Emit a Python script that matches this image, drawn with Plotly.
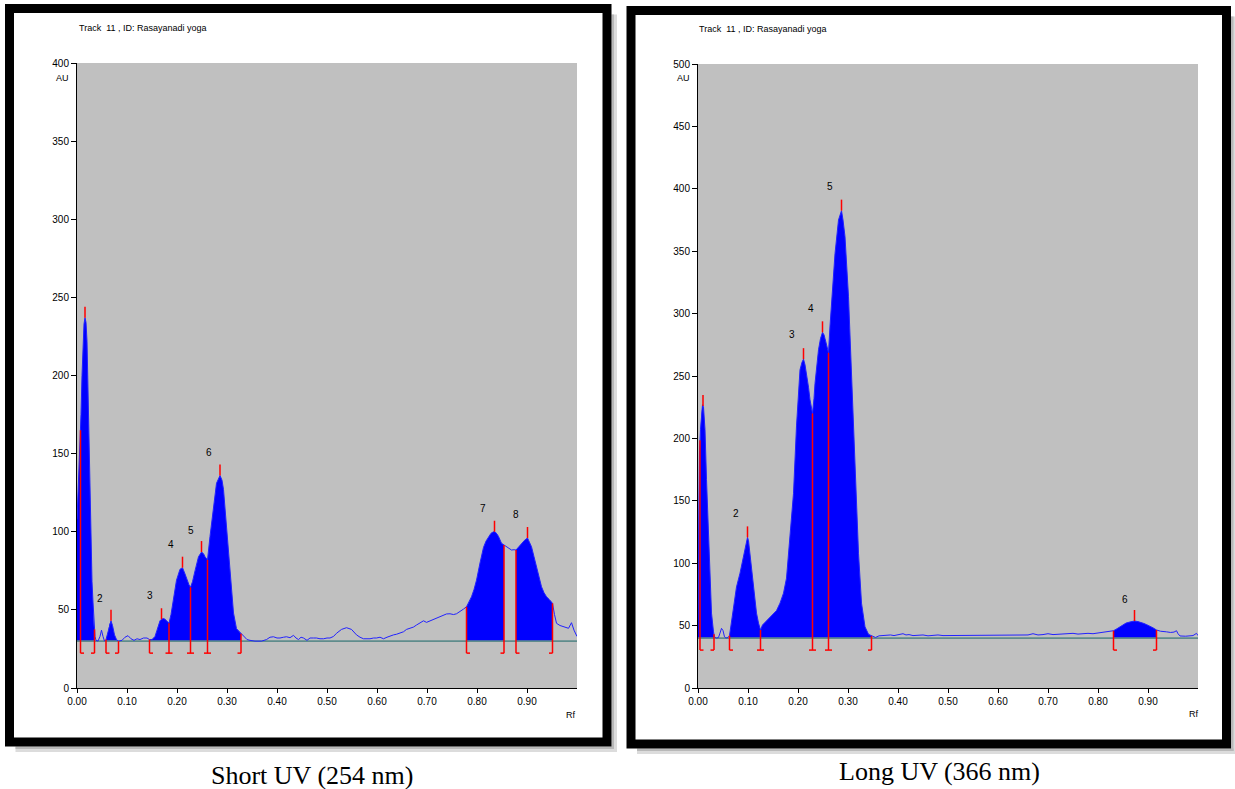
import numpy as np
import plotly.graph_objects as go

W, H = 1235, 789

# ---------------- DATA : Short UV (254 nm) ----------------
short_rf = [0.000, 0.003, 0.006, 0.008, 0.010, 0.012, 0.014, 0.016, 0.018, 0.020, 0.022, 0.024, 0.026, 0.028,
            0.030, 0.032, 0.034, 0.036, 0.038, 0.042, 0.046, 0.049, 0.052, 0.055, 0.058, 0.062, 0.065, 0.068,
            0.071, 0.075, 0.079, 0.083, 0.090, 0.096, 0.102, 0.108, 0.114, 0.120, 0.126, 0.133, 0.140, 0.145,
            0.150, 0.156, 0.160, 0.163, 0.166, 0.169, 0.173, 0.176, 0.180, 0.184, 0.188, 0.193, 0.199, 0.206,
            0.211, 0.216, 0.220, 0.224, 0.227, 0.231, 0.236, 0.243, 0.249, 0.253, 0.256, 0.261, 0.266, 0.273,
            0.279, 0.286, 0.290, 0.293, 0.299, 0.306, 0.313, 0.319, 0.326, 0.333, 0.340, 0.346, 0.356, 0.369,
            0.379, 0.386, 0.393, 0.400, 0.406, 0.413, 0.419, 0.426, 0.433, 0.438, 0.443, 0.448, 0.453, 0.460,
            0.466, 0.473, 0.479, 0.486, 0.493, 0.500, 0.506, 0.513, 0.519, 0.529, 0.539, 0.549, 0.559, 0.566,
            0.573, 0.580, 0.586, 0.593, 0.599, 0.606, 0.613, 0.620, 0.626, 0.633, 0.639, 0.646, 0.653, 0.659,
            0.666, 0.673, 0.679, 0.686, 0.693, 0.699, 0.706, 0.713, 0.720, 0.726, 0.733, 0.739, 0.746, 0.753,
            0.759, 0.766, 0.773, 0.779, 0.784, 0.789, 0.794, 0.799, 0.806, 0.813, 0.818, 0.823, 0.828, 0.833,
            0.836, 0.840, 0.843, 0.849, 0.854, 0.858, 0.863, 0.869, 0.874, 0.878, 0.884, 0.889, 0.895, 0.901,
            0.905, 0.909, 0.914, 0.919, 0.924, 0.929, 0.934, 0.939, 0.945, 0.951, 0.955, 0.959, 0.966, 0.973,
            0.983, 0.989, 0.994, 1.000]
short_au = [108, 132, 155, 175, 200, 222, 233, 237, 234, 222, 190, 160, 115, 85,
            68, 55, 42, 33, 30.5, 30, 33, 37, 33, 30, 31, 36, 41, 43,
            40, 34, 31, 30, 30.5, 32.5, 33.5, 31.5, 30.5, 31.5, 31, 32, 32, 31,
            31, 33, 37, 40, 43, 44, 44.5, 44, 42.5, 41.5, 47, 56, 69, 76,
            77, 73, 69, 66, 64.5, 68, 75, 84, 87, 86, 84, 82, 97, 116,
            131, 136, 133, 127, 103, 73, 48, 38, 35.5, 33, 31, 30.5, 30, 30,
            31, 32.5, 32.8, 32, 32, 32.5, 32.8, 32.2, 33.7, 32, 31, 32.5, 32, 30.5,
            32, 32, 32, 31.5, 31.5, 32, 32, 33, 35, 37.5, 38.6, 37.5, 34, 32.5,
            31.5, 31.5, 31.5, 32, 32, 32.5, 31.5, 32.5, 33.4, 34, 34.4, 35, 36, 37.5,
            38.2, 39, 40.3, 41.5, 43, 42, 43, 44, 45, 46, 46.5, 47.4, 47.5, 47,
            47.5, 48.8, 50.5, 52, 55, 58.4, 63, 69, 80, 90, 94, 97, 99, 100,
            100, 98.5, 97, 92.6, 91.5, 90.5, 89.4, 88.3, 88.5, 88.3, 90.5, 92.6, 94.5, 96,
            93.5, 90.4, 84, 77.6, 71, 64.8, 61, 58.4, 56.5, 54.2, 47, 41.4, 40, 39.2,
            38.2, 41.8, 37, 33]
short_baseline = 30
short_win_start = [0.007, 0.058, 0.145, 0.184, 0.227, 0.261, 0.779, 0.878]
short_win_end = [0.035, 0.083, 0.184, 0.227, 0.261, 0.328, 0.854, 0.951]
short_fill_start = [0.000, 0.058, 0.145, 0.184, 0.227, 0.261, 0.779, 0.878]
short_peak_rf = [0.016, 0.068, 0.169, 0.211, 0.249, 0.286, 0.835, 0.901]
short_label_text = ["2", "3", "4", "5", "6", "7", "8"]
short_label_rf = [0.046, 0.146, 0.188, 0.227, 0.263, 0.811, 0.878]
short_label_au = [57, 59, 92, 101, 151, 115, 111]

# ---------------- DATA : Long UV (366 nm) ----------------
long_rf = [0.000, 0.001, 0.002, 0.003, 0.005, 0.007, 0.009, 0.011, 0.014, 0.017, 0.021, 0.024, 0.027, 0.031,
           0.033, 0.037, 0.041, 0.044, 0.047, 0.050, 0.053, 0.056, 0.060, 0.063, 0.066, 0.071, 0.077, 0.084,
           0.091, 0.097, 0.099, 0.101, 0.104, 0.111, 0.117, 0.121, 0.124, 0.125, 0.129, 0.137, 0.144, 0.150,
           0.157, 0.164, 0.171, 0.177, 0.184, 0.191, 0.197, 0.201, 0.204, 0.208, 0.211, 0.214, 0.217, 0.221,
           0.224, 0.229, 0.232, 0.234, 0.241, 0.245, 0.249, 0.252, 0.254, 0.259, 0.261, 0.264, 0.267, 0.274,
           0.281, 0.284, 0.287, 0.290, 0.294, 0.301, 0.307, 0.314, 0.321, 0.327, 0.334, 0.341, 0.347, 0.355,
           0.362, 0.370, 0.378, 0.385, 0.392, 0.398, 0.405, 0.410, 0.416, 0.422, 0.430, 0.440, 0.450, 0.460,
           0.470, 0.480, 0.490, 0.500, 0.510, 0.520, 0.530, 0.540, 0.550, 0.560, 0.570, 0.580, 0.590, 0.600,
           0.610, 0.620, 0.630, 0.640, 0.650, 0.660, 0.670, 0.680, 0.690, 0.700, 0.710, 0.720, 0.730, 0.740,
           0.750, 0.760, 0.770, 0.780, 0.790, 0.800, 0.810, 0.820, 0.826, 0.831, 0.838, 0.844, 0.850, 0.856,
           0.864, 0.873, 0.880, 0.886, 0.891, 0.897, 0.904, 0.910, 0.917, 0.925, 0.937, 0.945, 0.952, 0.957,
           0.960, 0.964, 0.975, 0.984, 0.990, 0.997, 1.000]
long_au = [68, 120, 160, 190, 207, 220, 227, 225, 207, 167, 119, 81, 60, 45,
           41, 40, 40.5, 44, 47.8, 46, 41, 40, 40.5, 42, 50, 65, 81, 92,
           105, 118.6, 120.7, 118, 108, 81, 60, 52, 48, 46.5, 50.5, 54, 56.5, 59,
           62, 68, 76, 88, 121, 156, 210, 239, 255, 261, 263.5, 259, 252, 241,
           231, 220, 232, 244, 271, 280, 285, 283, 280, 271, 268.7, 290, 308, 348,
           375, 380, 382.5, 375, 361.6, 313.5, 249.4, 174.7, 108, 68, 49, 43, 41.7, 40.5,
           41.8, 42, 42, 42.5, 42, 42.5, 43, 43.5, 42.5, 42.8, 42, 42, 42.5, 41.8,
           42, 42.5, 42, 42, 42.3, 42, 42, 42.3, 42, 42, 42, 42.5, 42, 42,
           42, 42, 42, 42, 42.2, 42.5, 43.5, 42.5, 42.8, 43.5, 42.8, 43.2, 43.3, 43.5,
           43.8, 43.2, 43.5, 43.8, 43.5, 44, 44.5, 45, 45.5, 45.9, 47.5, 49, 50.5, 52,
           52.9, 53.7, 53.2, 52.6, 51.8, 50.8, 49.7, 48.2, 46.5, 45.5, 45, 44.5, 44.8, 45.9,
           43.5, 41.7, 41.5, 41.7, 42, 43.8, 42]
long_baseline = 40
long_win_start = [0.004, 0.063, 0.125, 0.229, 0.261, 0.831]
long_win_end = [0.032, 0.125, 0.229, 0.261, 0.347, 0.917]
long_fill_start = [0.000, 0.063, 0.125, 0.229, 0.261, 0.831]
long_peak_rf = [0.010, 0.099, 0.211, 0.249, 0.287, 0.873]
long_label_text = ["2", "3", "4", "5", "6"]
long_label_rf = [0.076, 0.187, 0.225, 0.264, 0.854]
long_label_au = [140, 283, 304, 402, 71]

x_tick_vals = [0.0, 0.1, 0.2, 0.3, 0.4, 0.5, 0.6, 0.7, 0.8, 0.9]
x_tick_text = ["0.00", "0.10", "0.20", "0.30", "0.40", "0.50", "0.60", "0.70", "0.80", "0.90"]
short_y_ticks = [0, 50, 100, 150, 200, 250, 300, 350, 400]
long_y_ticks = [0, 50, 100, 150, 200, 250, 300, 350, 400, 450, 500]
captions = ["Short UV (254 nm)", "Long UV (366 nm)"]
track_title = "Track  11 , ID: Rasayanadi yoga"

# ---------------- FIGURE ----------------
FILL = "#0000FF"
LINE = "#2222FF"
RED = "#FF0000"
BASE_COL = "#5F8C8C"

fig = go.Figure()


def px(x):
    return x / W


def py(y):
    return 1 - y / H


def add_panel(rf, au, base, wstart, wend, fstart, peaks, ltext, lrf, lau, xa, ya, au_per_px):
    xref = "x" if xa == "xaxis" else "x2"
    yref = "y" if ya == "yaxis" else "y2"
    rf = np.asarray(rf, float)
    au = np.asarray(au, float)
    # filled peak areas
    for a, b in zip(fstart, wend):
        m = (rf > a) & (rf < b)
        xs = [a, a] + list(rf[m]) + [b, b]
        ys = [base, float(np.interp(a, rf, au))] + list(au[m]) + [float(np.interp(b, rf, au)), base]
        fig.add_trace(go.Scatter(x=xs, y=ys, mode="lines", fill="toself", fillcolor=FILL,
                                 line=dict(width=0, color=FILL), xaxis=xref, yaxis=yref,
                                 hoverinfo="skip", showlegend=False))
    # baseline
    fig.add_trace(go.Scatter(x=[0, 1], y=[base, base], mode="lines",
                             line=dict(color=BASE_COL, width=1.6), xaxis=xref, yaxis=yref,
                             hoverinfo="skip", showlegend=False))
    # densitogram curve
    fig.add_trace(go.Scatter(x=rf, y=au, mode="lines", line=dict(color=LINE, width=1),
                             xaxis=xref, yaxis=yref, showlegend=False))
    # red integration marks
    depth = 12 * au_per_px
    stub = 3.5 / 500
    tick = 11 * au_per_px
    xs, ys = [], []
    for b in sorted(set(wstart) | set(wend)):
        top = float(np.interp(b, rf, au))
        xs += [b, b, None]
        ys += [base - depth, top, None]
        left = b - stub if b in wend else b
        right = b + stub if b in wstart else b
        xs += [left, right, None]
        ys += [base - depth, base - depth, None]
    for p in peaks:
        v = float(np.interp(p, rf, au))
        xs += [p, p, None]
        ys += [v, v + tick, None]
    fig.add_trace(go.Scatter(x=xs, y=ys, mode="lines", line=dict(color=RED, width=1.5),
                             xaxis=xref, yaxis=yref, hoverinfo="skip", showlegend=False))
    for t, x, y in zip(ltext, lrf, lau):
        fig.add_annotation(x=x, y=y, xref=xref, yref=yref, text=t, showarrow=False,
                           font=dict(family="Arial, Liberation Sans", size=10, color="black"))


add_panel(short_rf, short_au, short_baseline, short_win_start, short_win_end, short_fill_start,
          short_peak_rf, short_label_text, short_label_rf, short_label_au, "xaxis", "yaxis", 400 / 625)
add_panel(long_rf, long_au, long_baseline, long_win_start, long_win_end, long_fill_start,
          long_peak_rf, long_label_text, long_label_rf, long_label_au, "xaxis2", "yaxis2", 500 / 624)

tickfont = dict(family="Arial, Liberation Sans", size=10, color="black")
xcommon = dict(range=[0, 1], tickvals=x_tick_vals, ticktext=x_tick_text, ticks="outside", ticklen=4,
               tickcolor="black", showline=True, linecolor="black", linewidth=1, showgrid=False,
               zeroline=False, tickfont=tickfont, fixedrange=True, automargin=False)
ycommon = dict(ticks="outside", ticklen=5, tickcolor="black", showline=True, linecolor="black",
               linewidth=1, showgrid=False, zeroline=False, tickfont=tickfont, fixedrange=True,
               automargin=False)

fig.update_layout(
    width=W, height=H, margin=dict(l=0, r=0, t=0, b=0, pad=0), autosize=False,
    paper_bgcolor="white", plot_bgcolor="#C0C0C0", showlegend=False,
    xaxis=dict(domain=[px(77), px(577)], anchor="y", **xcommon),
    yaxis=dict(domain=[py(688), py(63)], anchor="x", range=[0, 400], tickvals=short_y_ticks, **ycommon),
    xaxis2=dict(domain=[px(698), px(1198)], anchor="y2", **xcommon),
    yaxis2=dict(domain=[py(688), py(64)], anchor="x2", range=[0, 500], tickvals=long_y_ticks, **ycommon),
)

# frames with drop shadow strips (right & bottom)
frames = [(9.5, 8.5, 607, 742), (631, 10.5, 1226.5, 744)]
for (x0, y0, x1, y1) in frames:
    for off, col in [(10, "#DCDCDC"), (7, "#B8B8B8")]:
        fig.add_shape(type="rect", xref="paper", yref="paper", x0=px(x1 + 4.5), x1=px(x1 + off),
                      y0=py(y1 + off), y1=py(y0 + 6), line=dict(width=0), fillcolor=col, layer="below")
        fig.add_shape(type="rect", xref="paper", yref="paper", x0=px(x0 + 6), x1=px(x1 + off),
                      y0=py(y1 + off), y1=py(y1 + 4.5), line=dict(width=0), fillcolor=col, layer="below")
    fig.add_shape(type="rect", xref="paper", yref="paper", x0=px(x0), y0=py(y1), x1=px(x1), y1=py(y0),
                  line=dict(width=9, color="black"), fillcolor="rgba(0,0,0,0)", layer="above")

small = dict(family="Arial, Liberation Sans", size=9, color="black")
texts = [
    (track_title, 77, 28, "left"), (track_title, 697, 29, "left"),
    ("AU", 62, 78, "center"), ("AU", 683, 78, "center"),
    ("Rf", 571, 715, "center"), ("Rf", 1194, 714, "center"),
]
for t, x, y, anc in texts:
    fig.add_annotation(x=px(x), y=py(y), xref="paper", yref="paper", text=t, showarrow=False,
                       xanchor=anc, yanchor="middle", font=small)

for t, x, y in zip(captions, [312, 939], [775, 771]):
    fig.add_annotation(x=px(x), y=py(y), xref="paper", yref="paper", text=t, showarrow=False,
                       xanchor="center", yanchor="middle",
                       font=dict(family="Liberation Serif, Times New Roman", size=26, color="black"))

fig.write_html(
    "out.html",
    config={"displayModeBar": False},
    post_script=(
        "document.documentElement.style.margin='0';document.body.style.margin='0';"
        "document.body.style.overflow='hidden';document.documentElement.style.overflow='hidden';"
        "var d=document.getElementById('{plot_id}');d.style.position='fixed';"
        "d.style.left='0px';d.style.top='0px';"
    ),
)
